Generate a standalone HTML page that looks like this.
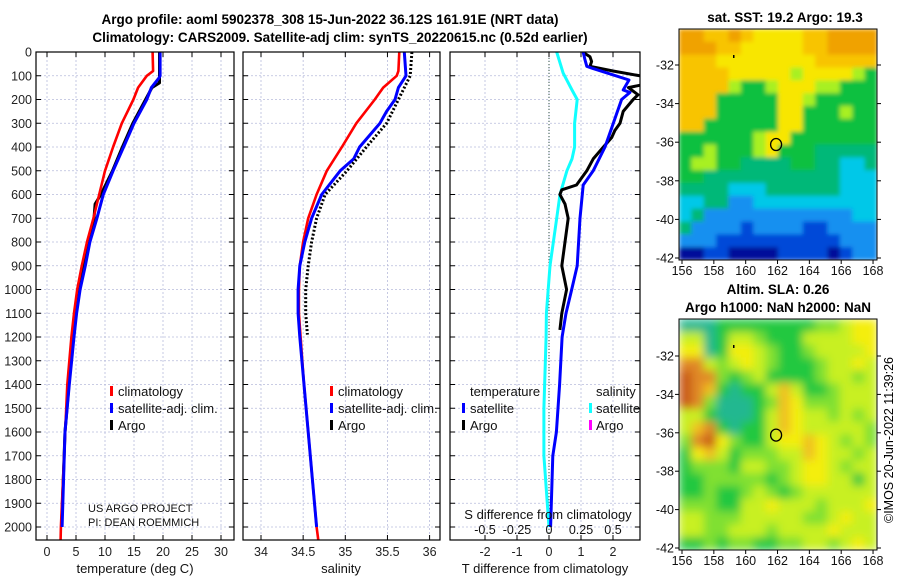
<!DOCTYPE html>
<html><head><meta charset="utf-8"><style>
html,body{margin:0;padding:0;background:#fff;width:900px;height:580px;overflow:hidden}
svg{display:block;font-family:"Liberation Sans","DejaVu Sans",sans-serif}
</style></head><body>
<svg id="root" width="900" height="580" viewBox="0 0 900 580">
<defs>
<filter id="blurSst" x="0" y="0" width="1" height="1"><feGaussianBlur stdDeviation="2.2" edgeMode="duplicate"/></filter>
<filter id="blurSla" x="0" y="0" width="1" height="1"><feGaussianBlur stdDeviation="4.5" edgeMode="duplicate"/></filter>
</defs>
<text x="330" y="24" text-anchor="middle" font-size="13.5" font-weight="bold">Argo profile: aoml 5902378_308 15-Jun-2022 36.12S 161.91E (NRT data)</text>
<text x="340" y="42" text-anchor="middle" font-size="13.5" font-weight="bold">Climatology: CARS2009. Satellite-adj clim: synTS_20220615.nc (0.52d earlier)</text>
<text x="785" y="22" text-anchor="middle" font-size="13.5" font-weight="bold">sat. SST: 19.2 Argo: 19.3</text>
<text x="778" y="294" text-anchor="middle" font-size="13.5" font-weight="bold">Altim. SLA: 0.26</text>
<text x="778" y="312" text-anchor="middle" font-size="13.5" font-weight="bold">Argo h1000: NaN h2000: NaN</text>
<text transform="translate(893,440) rotate(-90)" text-anchor="middle" font-size="12.5">©IMOS 20-Jun-2022 11:39:26</text>
<g id="g"></g>
</svg>
<script>
// depth axis
const depthTicks=[0,100,200,300,400,500,600,700,800,900,1000,1100,1200,1300,1400,1500,1600,1700,1800,1900,2000];
// temperature panel
const tTicks=[0,5,10,15,20,25,30];
const tClimDepth=[0,80,100,150,200,300,400,500,600,700,800,900,1000,1100,1200,1400,2000,2055];
const tClim=[18.2,18.3,17.2,15.7,14.9,12.9,11.4,10.0,9.0,8.0,6.9,6.0,5.2,4.65,4.2,3.5,2.4,2.35];
const tSatDepth=[0,100,110,150,200,300,400,500,600,700,800,900,1000,1100,1200,1400,1600,2000];
const tSat=[19.5,19.5,19.3,18.0,17.2,15.0,13.2,11.4,9.7,8.6,7.4,6.6,5.7,5.1,4.65,3.85,3.1,2.6];
const tArgoDepth=[0,130,150,200,300,400,500,600,640,700,800,900,1000,1100,1200,1400,1600,2000];
const tArgo=[19.4,19.4,18.1,17.0,14.8,13.0,11.3,9.3,8.3,8.1,7.1,6.2,5.5,5.0,4.5,3.8,3.1,2.5];
// salinity panel
const sTicks=[34,34.5,35,35.5,36];
const sClimDepth=[0,80,100,150,200,300,400,500,600,700,800,900,1000,1100,1200,1400,2000,2055];
const sClim=[35.64,35.63,35.61,35.45,35.35,35.13,34.96,34.78,34.66,34.56,34.50,34.46,34.45,34.45,34.47,34.51,34.66,34.68];
const sSatDepth=[0,100,150,200,250,300,400,450,500,600,700,800,900,1000,1100,1200,2000];
const sSat=[35.70,35.72,35.63,35.59,35.49,35.41,35.17,35.10,34.94,34.72,34.60,34.52,34.46,34.44,34.44,34.46,34.66];
const sArgoDepth=[0,100,200,300,400,500,600,700,800,900,1000,1100,1190];
const sArgo=[35.79,35.77,35.63,35.49,35.25,35.02,34.76,34.66,34.60,34.56,34.53,34.53,34.55];
// difference panel
const dTTicks=[-2,-1,0,1,2];
const dSTicks=[-0.5,-0.25,0,0.25,0.5];
const dSSatDepth=[0,88,160,200,300,400,450,500,600,700,900,1100,1200,1500,1700,2000];
const dSSat=[0.06,0.11,0.18,0.22,0.2,0.2,0.18,0.14,0.086,0.06,0.008,-0.02,-0.023,-0.04,-0.04,0.0];
const dTSatDepth=[0,30,60,70,118,160,170,200,300,400,500,560,700,900,1000,1100,1200,1400,1600,1700,2000];
const dTSat=[1.07,1.12,1.18,1.38,2.5,2.32,2.53,2.27,2.01,1.75,1.38,1.07,0.97,0.88,0.71,0.53,0.41,0.33,0.23,0.12,0.05];
const dTArgoDepth=[0,20,40,60,80,100,130,150,180,200,250,300,330,360,400,450,500,560,580,600,640,700,800,900,1000,1100,1170];
const dTArgo=[1.05,1.28,1.33,1.28,2.0,2.84,3.2,2.48,2.78,2.63,2.32,2.22,2.06,1.96,1.70,1.38,1.18,0.86,0.40,0.34,0.5,0.6,0.5,0.40,0.55,0.40,0.34];
// maps
const lonTicks=[156,158,160,162,164,166,168];
const latTicks=[-32,-34,-36,-38,-40,-42];
const argoLon=[161.91], argoLat=[-36.12];
const sstGrid=[
"9988987777889999","9998877777889999","8887777777788888","8888777776777765",
"8888655677766555","8885555577655555","8885555577555655","8855555577555555",
"5555556775555555","5565556755544444","5665544445544334","5544444444444333",
"4444333444444333","3344223333333333","3422222222222233","4222212222112222",
"2221111111111222","0011000011110122"];
const slaGrid=[
"0001111111122344","3301332111333344","4401443211233334","6632343211123343",
"7662123111123323","7651011353112333","7620001254222333","3310001354332323",
"3561011354333332","2674211344543232","1453122233543323","1222133223443233",
"1122222123443313","1121123212333333","2221133433323334","3322233333223433",
"3322333233334333","1121221122332343"];

const NS="http://www.w3.org/2000/svg";
const G=document.getElementById('g');
function el(tag,attrs,parent){const e=document.createElementNS(NS,tag);for(const k in attrs)e.setAttribute(k,attrs[k]);(parent||G).appendChild(e);return e;}
const Y0=52, Y1=540, yD=d=>Y0+d*0.2375;

function panel(name,x0,x1,xf,vTicks,showY){
  const g=el('g',{});
  
  
  vTicks.forEach(v=>{const x=xf(v);el('line',{x1:x,x2:x,y1:Y0,y2:Y1,stroke:'#b8bcdc','stroke-width':0.8,'stroke-dasharray':'2,2'},g);});
  depthTicks.forEach(d=>{const y=yD(d);el('line',{x1:x0,x2:x1,y1:y,y2:y,stroke:'#b8bcdc','stroke-width':0.8,'stroke-dasharray':'2,2'},g);
    el('line',{x1:x0,x2:x0+5,y1:y,y2:y,stroke:'#000'},g);el('line',{x1:x1-5,x2:x1,y1:y,y2:y,stroke:'#000'},g);
    if(showY){const t=el('text',{x:x0-4,y:y+4.5,'text-anchor':'end','font-size':12.5,fill:'#222'},g);t.textContent=d;
      
      }});
  return g;
}
function line(g,xs,ds,xf,color,w,name,dash){
  const pts=xs.map((v,i)=>xf(v).toFixed(1)+','+yD(ds[i]).toFixed(1)).join(' ');
  const p=el('polyline',{points:pts,fill:'none',stroke:color,'stroke-width':w,'stroke-linejoin':'round'},g);
  if(dash)p.setAttribute('stroke-dasharray',dash);
  
  
}
function frame(g,x0,x1){el('rect',{x:x0,y:Y0,width:x1-x0,height:Y1-Y0,fill:'none',stroke:'#000','stroke-width':1.2},g);}
function xticks(g,vals,xf,fmt,y){vals.forEach(v=>{const x=xf(v);el('line',{x1:x,x2:x,y1:Y1,y2:Y1-5,stroke:'#000'},g);el('line',{x1:x,x2:x,y1:Y0,y2:Y0+5,stroke:'#000'},g);
  const t=el('text',{x:x,y:y,'text-anchor':'middle','font-size':12.5,fill:'#222'},g);t.textContent=fmt(v);
  
  });}
function txt(g,x,y,s,size,name,anchor){const t=el('text',{x:x,y:y,'font-size':size,fill:'#111','text-anchor':anchor||'start'},g);t.textContent=s;
  
  return t;}
function mark(g,x,y,c){el('rect',{x:x,y:y-10,width:3,height:10,fill:c},g);}

// Panel 1
const xT=v=>47+v*5.8;
let p1=panel('temperature-panel',36,234,xT,tTicks,true);
line(p1,tArgo,tArgoDepth,xT,'#000',3,'argo-temperature-line');
line(p1,tClim,tClimDepth,xT,'#f00',2.6,'climatology-temperature-line');
line(p1,tSat,tSatDepth,xT,'#00f',3,'satellite-temperature-line');
frame(p1,36,234);xticks(p1,tTicks,xT,v=>v,556);
txt(p1,135,573,'temperature (deg C)',13,'temperature-axis-title','middle');
mark(p1,110,396,'#f00');txt(p1,118,396,'climatology',13,'legend-climatology');
mark(p1,110,413,'#00f');txt(p1,118,413,'satellite-adj. clim.',13,'legend-satellite');
mark(p1,110,430,'#000');txt(p1,118,430,'Argo',13,'legend-argo');
txt(p1,88,512,'US ARGO PROJECT',11,'project-label');txt(p1,88,526,'PI: DEAN ROEMMICH',11,'pi-label');

// Panel 2
const xS=v=>261+(v-34)*84.3;
let p2=panel('salinity-panel',243,440,xS,sTicks,false);
line(p2,sClim,sClimDepth,xS,'#f00',2.6,'climatology-salinity-line');
line(p2,sSat,sSatDepth,xS,'#00f',3,'satellite-salinity-line');
line(p2,sArgo,sArgoDepth,xS,'#000',3,'argo-salinity-line','2,2');
frame(p2,243,440);xticks(p2,sTicks,xS,v=>v,556);
txt(p2,341,573,'salinity',13,'salinity-axis-title','middle');
mark(p2,330,396,'#f00');txt(p2,338,396,'climatology',13,'legend-climatology');
mark(p2,330,413,'#00f');txt(p2,338,413,'satellite-adj. clim.',13,'legend-satellite');
mark(p2,330,430,'#000');txt(p2,338,430,'Argo',13,'legend-argo');

// Panel 3
const xDT=v=>549+v*32, xDS=v=>549+v*128;
let p3=panel('difference-panel',450,640,xDT,dTTicks,false);
el('line',{x1:549,x2:549,y1:Y0,y2:Y1,stroke:'#354','stroke-width':1,'stroke-dasharray':'1,2'},p3);
const cp=el('clipPath',{id:'c3'},p3);el('rect',{x:450,y:Y0,width:190,height:Y1-Y0},cp);
const p3c=el('g',{'clip-path':'url(#c3)'},p3);
line(p3c,dSSat,dSSatDepth,xDS,'#1ff',3,'salinity-diff-satellite-line');
line(p3c,dTArgo,dTArgoDepth,xDT,'#000',3,'temperature-diff-argo-line');
line(p3c,dTSat,dTSatDepth,xDT,'#00f',3,'temperature-diff-satellite-line');
frame(p3,450,640);xticks(p3,dTTicks,xDT,v=>v,556);
txt(p3,545,573,'T difference from climatology',13,'t-diff-axis-title','middle');
txt(p3,548,519,'S difference from climatology',13,'s-diff-axis-title','middle');
dSTicks.forEach(v=>{txt(p3,xDS(v),534,String(v),12.5,'s-diff-tick-label','middle');});
txt(p3,470,396,'temperature',13,'legend-temperature-header');txt(p3,596,396,'salinity',13,'legend-salinity-header');
mark(p3,462,413,'#00f');txt(p3,470,413,'satellite',13,'legend-t-satellite');
mark(p3,462,430,'#000');txt(p3,470,430,'Argo',13,'legend-t-argo');
mark(p3,589,413,'#1ff');txt(p3,596,413,'satellite',13,'legend-s-satellite');
mark(p3,589,430,'#f0f');txt(p3,596,430,'Argo',13,'legend-s-argo');

// Maps
const sstCols=['#00109a','#0048d8','#1890f0','#00c8e8','#00b878','#10c040','#a8f020','#f8e600','#f8c400','#f0a200'];
const slaCols=['#20b890','#20c840','#80e030','#c8f020','#f4ee10','#f0c020','#e08828','#c85818'];
function map(name,top,bottom,grid,cols,latTop,filt,cid){
  const x0=679,x1=877;
  const g=el('g',{});
  
  
  const cpm=el('clipPath',{id:cid},g);el('rect',{x:x0,y:top,width:x1-x0,height:bottom-top},cpm);
  const outer=el('g',{'clip-path':'url(#'+cid+')'},g);
  const cells=el('g',{filter:'url(#'+filt+')'},outer);
  const rows=grid.length,nc=grid[0].length,cw=(x1-x0)/nc,ch=(bottom-top)/rows;
  grid.forEach((r,i)=>{for(let j=0;j<nc;j++){const c=el('rect',{x:(x0+j*cw).toFixed(2),y:(top+i*ch).toFixed(2),width:(cw+0.4).toFixed(2),height:(ch+0.4).toFixed(2),fill:cols[+r[j]]},cells);
    
    }});
  const xL=v=>682+(v-156)*15.92;
  const yL=v=>latTop+(-32-v)*((bottom-2-latTop)/10);
  el('rect',{x:x0,y:top,width:x1-x0,height:bottom-top,fill:'none',stroke:'#000','stroke-width':1},g);
  lonTicks.forEach(v=>{const x=xL(v);el('line',{x1:x,x2:x,y1:bottom,y2:bottom+4,stroke:'#000'},g);
    txt(g,x,bottom+15,String(v),12.5,'longitude-tick-label','middle');});
  latTicks.forEach(v=>{const y=yL(v);el('line',{x1:x0-4,x2:x0,y1:y,y2:y,stroke:'#000'},g);el('line',{x1:x1,x2:x1+4,y1:y,y2:y,stroke:'#000'},g);
    txt(g,x0-5,y+4.5,String(v),12.5,'latitude-tick-label','end');});
  const c=el('ellipse',{cx:xL(argoLon[0]),cy:yL(argoLat[0]),rx:5.5,ry:6,fill:'none',stroke:'#000','stroke-width':1.3},g);
  
  
  el('rect',{x:733,y:top+26,width:1.5,height:3,fill:'#000'},g);
}
map('sst-map',29,260,sstGrid,sstCols,65,'blurSst','cm1');
map('sla-map',319,550,slaGrid,slaCols,356,'blurSla','cm2');
</script>
</body></html>
